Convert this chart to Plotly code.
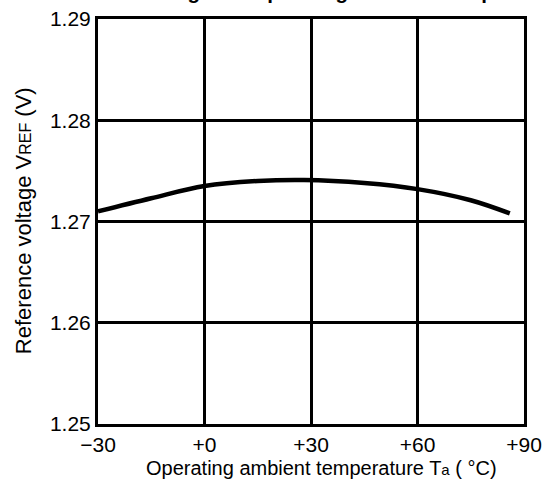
import plotly.graph_objects as go

temperature_c = [-30, -15, 0, 15, 28, 45, 60, 75, 86]
vref_v = [1.2710, 1.2723, 1.2735, 1.2740, 1.2741, 1.2738, 1.2732, 1.2721, 1.2708]

x_tickvals = [-30, 0, 30, 60, 90]
x_ticktext = ["\u221230", "+0", "+30", "+60", "+90"]
y_tickvals = [1.25, 1.26, 1.27, 1.28, 1.29]
y_ticktext = ["1.25", "1.26", "1.27", "1.28", "1.29"]

title_text = "Reference Voltage vs. Operating Ambient Temperature"
x_title = "Operating ambient temperature T<span style='font-size:15px'>a</span> ( \u00b0C)"
y_title = "Reference voltage V<span style='font-size:16px'>REF</span> (V)"
FONT = "Liberation Sans, Arial, sans-serif"

fig = go.Figure()
fig.add_trace(go.Scatter(
    x=temperature_c, y=vref_v, mode="lines",
    line=dict(color="black", width=4.5, shape="spline", smoothing=1.0),
    showlegend=False, hoverinfo="skip",
))

fig.update_layout(
    width=559, height=483,
    margin=dict(l=98, r=35, t=19, b=59, autoexpand=False),
    paper_bgcolor="white", plot_bgcolor="white",
    font=dict(family=FONT, color="black", size=21),
    showlegend=False,
)
fig.update_xaxes(
    range=[-30, 90], tickvals=x_tickvals, ticktext=x_ticktext,
    showgrid=True, gridcolor="black", gridwidth=3,
    showline=True, linecolor="black", linewidth=3, mirror=True,
    zeroline=False, ticks="", ticklen=0,
    tickfont=dict(size=21),
)
fig.update_yaxes(
    range=[1.25, 1.29], tickvals=y_tickvals, ticktext=y_ticktext,
    showgrid=True, gridcolor="black", gridwidth=3,
    showline=True, linecolor="black", linewidth=3, mirror=True,
    zeroline=False, ticks="", ticklen=0,
    tickfont=dict(size=21),
)
fig.add_annotation(
    text=x_title, xref="paper", yref="paper",
    x=0.524, y=0, xanchor="center", yanchor="middle", yshift=-44,
    showarrow=False, font=dict(size=20, family=FONT, color="black"),
)
fig.add_annotation(
    text=y_title, xref="paper", yref="paper", textangle=-90,
    x=-0.175, y=0.502, xanchor="center", yanchor="middle",
    showarrow=False, font=dict(size=22, family=FONT, color="black"),
)
fig.add_annotation(
    text="<b>" + title_text + "</b>", xref="paper", yref="paper",
    x=0.471, y=1, xanchor="center", yanchor="bottom", yshift=14,
    showarrow=False, font=dict(size=20.5, family=FONT, color="black"),
)
fig.write_html("out.html", config={"displayModeBar": False},
               post_script="document.body.style.margin='0';")
